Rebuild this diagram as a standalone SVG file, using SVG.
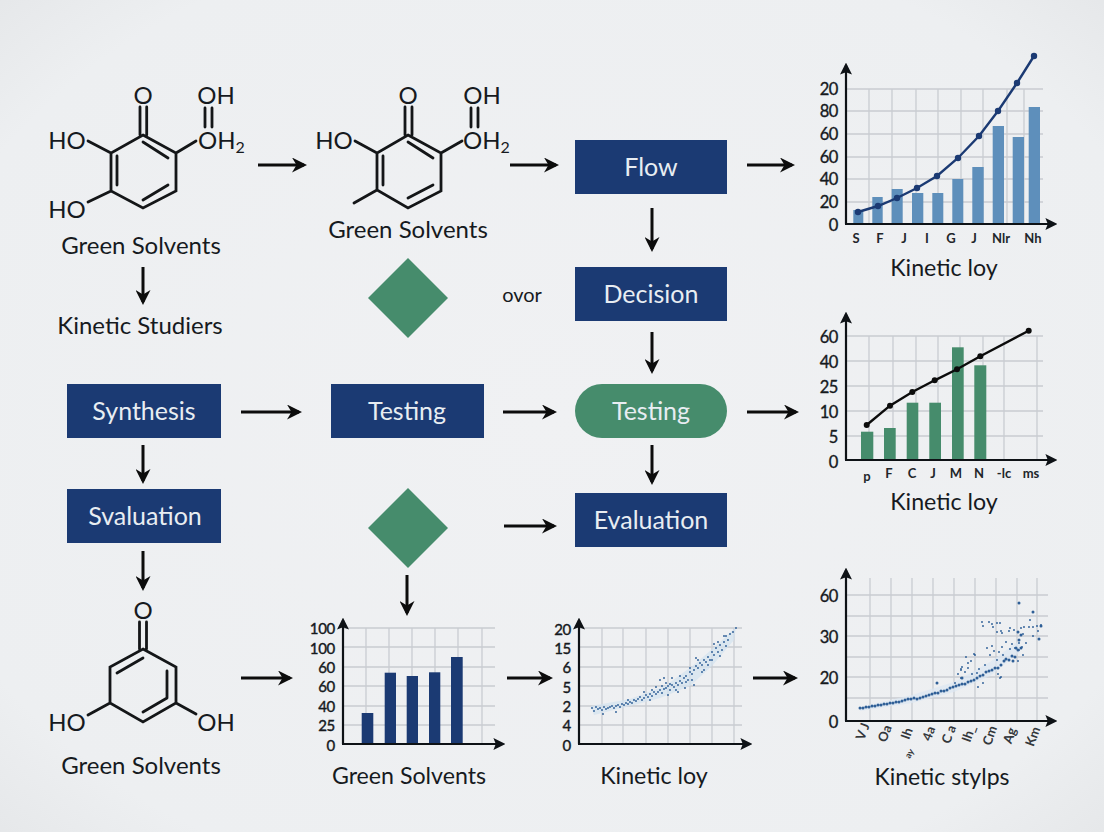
<svg xmlns="http://www.w3.org/2000/svg" width="1104" height="832" viewBox="0 0 1104 832">
<style>
text{font-family:"Lato","Open Sans","Liberation Sans",sans-serif;fill:#161a1e}
.t{font-size:24px;text-anchor:middle}
.t2{font-size:23.200px;text-anchor:middle}
.b{font-size:25px;text-anchor:middle;fill:#e8edf2}
.c{font-size:24px;text-anchor:middle}
.a{font-size:16.500px;text-anchor:end;dominant-baseline:central;stroke:#161a1e;stroke-width:.35;letter-spacing:-.4px}
.a2{font-size:15px;text-anchor:end;dominant-baseline:central;stroke:#161a1e;stroke-width:.4;letter-spacing:-.3px}
.x{font-size:13px;text-anchor:middle;font-weight:700;fill:#22262a}
.r{font-size:13px;text-anchor:middle;font-weight:700;fill:#33373b}
.bond{fill:none;stroke:#141618;stroke-width:2.800;stroke-linecap:round}
.n{fill:#1b3a73}.g{fill:#468c6c}
.ar{fill:none;stroke:#0c0c0c;stroke-width:3;marker-end:url(#h)}
.ax{fill:none;stroke:#0e1216;stroke-width:2.200;marker-end:url(#h2)}
.grid{fill:none;stroke:#c9ccd1;stroke-width:1.300}
.dots{fill:none;stroke:#2f5f97;stroke-width:3;stroke-linecap:round}
.dots2{fill:none;stroke:#2f5f97;stroke-width:1.900;stroke-linecap:round}
</style>
<defs>
<radialGradient id="bg" cx="50%" cy="50%" r="72%"><stop offset="0" stop-color="#f0f1f3"/><stop offset=".82" stop-color="#edeff1"/><stop offset="1" stop-color="#e5e7e9"/></radialGradient>
<marker id="h" markerWidth="15" markerHeight="15" refX="8" refY="5" orient="auto" markerUnits="userSpaceOnUse" viewBox="0 0 10 10"><path d="M0 0L10 5L0 10L3 5Z" fill="#0c0c0c"/></marker>
<marker id="h2" markerWidth="12" markerHeight="12" refX="8" refY="5" orient="auto" markerUnits="userSpaceOnUse" viewBox="0 0 10 10"><path d="M0 0L10 5L0 10L2 5Z" fill="#0e1216"/></marker>
</defs>
<rect width="1104" height="832" fill="url(#bg)"/>

<g id="connectors">
<path class="ar" d="M258 165H304"/><path class="ar" d="M510 165H556"/><path class="ar" d="M747 165H792"/>
<path class="ar" d="M143 267V302"/><path class="ar" d="M652 208V249"/><path class="ar" d="M652 332V371"/><path class="ar" d="M652 445V482"/>
<path class="ar" d="M241 412H299"/><path class="ar" d="M503 412H554"/><path class="ar" d="M747 412H796"/>
<path class="ar" d="M143 445V481"/><path class="ar" d="M143 551V588"/>
<path class="ar" d="M504 526H554"/><path class="ar" d="M407 575V613"/>
<path class="ar" d="M241 678H290"/><path class="ar" d="M507 678H550"/><path class="ar" d="M753 678H795"/>
</g>

<g id="mol1">
<path class="bond" d="M143 135L176 153V191L143 208L111 191V153ZM140 135V107M146.700 135V107M205 127V108M212 127V108M111 153L88 141M176 153L196 141M111 191L88 202M117 156V185M143 142L168 158M143 200L168 185"/>
<text class="c" x="143" y="104">O</text><text class="c" x="216" y="104">OH</text><text class="c" x="67" y="149">HO</text>
<text class="c" x="198" y="149" style="text-anchor:start">OH<tspan font-size="16" dy="4">2</tspan></text><text class="c" x="67" y="218">HO</text>
<text class="t" x="141" y="254">Green Solvents</text>
</g>
<g id="kinetic-studies"><text class="t" x="140" y="334">Kinetic Studiers</text></g>
<g id="mol2">
<path class="bond" d="M408 135L441 153V191L408 208L377 190V153ZM405 135V107M412 135V107M471 127V108M478 127V108M377 153L355 141M441 153L462 141M377 190L354 203M383 156V185M408 142L433 158M408 198L433 185"/>
<text class="c" x="408" y="104">O</text><text class="c" x="482" y="104">OH</text><text class="c" x="334" y="149">HO</text>
<text class="c" x="463" y="149" style="text-anchor:start">OH<tspan font-size="16" dy="4">2</tspan></text>
<text class="t" x="408" y="238">Green Solvents</text>
</g>
<g id="diamond1"><path class="g" d="M408 258L448 298L408 338L368 298Z"/></g>
<g id="ovor"><text x="522" y="302" font-size="20" text-anchor="middle">ovor</text></g>
<g id="flow"><rect class="n" x="575" y="140" width="152" height="54"/><text class="b" x="651" y="176">Flow</text></g>
<g id="decision"><rect class="n" x="575" y="267" width="152" height="54"/><text class="b" x="651" y="303">Decision</text></g>
<g id="synthesis"><rect class="n" x="67" y="384" width="154" height="54"/><text class="b" x="144" y="420">Synthesis</text></g>
<g id="testing1"><rect class="n" x="331" y="384" width="153" height="54"/><text class="b" x="407" y="420">Testing</text></g>
<g id="testing2"><rect class="g" x="575" y="384" width="152" height="54" rx="27"/><text class="b" x="651" y="420">Testing</text></g>
<g id="svaluation"><rect class="n" x="67" y="489" width="154" height="54"/><text class="b" x="145" y="525">Svaluation</text></g>
<g id="evaluation"><rect class="n" x="575" y="493" width="152" height="54"/><text class="b" x="651" y="529">Evaluation</text></g>
<g id="diamond2"><path class="g" d="M408 488L448 528L408 568L368 528Z"/></g>

<g id="mol3">
<path class="bond" d="M143 649L176 667V703L143 722L110 703V667ZM139.500 649V622M146.500 649V622M110 703L88 715M176 703L196 714M117 673L143 658M167 671V698M143 712L167 698"/>
<text class="c" x="143" y="619">O</text><text class="c" x="67" y="731">HO</text><text class="c" x="216" y="731">OH</text>
<text class="t" x="141" y="774">Green Solvents</text>
</g>

<g id="chart1">
<path class="grid" d="M845 89H1043M845 111H1043M845 134H1043M845 157H1043M845 179H1043M845 202H1043M869 89V224M892 89V224M916 89V224M938 89V224M961 89V224M983 89V224M1007 89V224M1024 89V224"/>
<g fill="#5e8fbb"><rect x="853.300" y="210" width="10" height="14"/><rect x="872.300" y="197" width="10.400" height="27"/><rect x="891.700" y="189" width="11" height="35"/><rect x="912" y="193" width="11.300" height="31"/><rect x="932.300" y="193" width="11" height="31"/><rect x="952.300" y="179" width="11" height="45"/><rect x="972.300" y="167" width="11.400" height="57"/><rect x="992.700" y="126" width="11.300" height="98"/><rect x="1012.700" y="137" width="11.300" height="87"/><rect x="1028.700" y="107" width="11.300" height="117"/></g>
<path class="ax" d="M846 224V65"/><path class="ax" d="M845 224H1055"/>
<path d="M858 212L878 206L897 198L917 188L937 176L958 158L979 136L998 111L1017 83L1034 56" fill="none" stroke="#1b3a73" stroke-width="2.400"/>
<g fill="#1b3a73"><circle cx="858" cy="212" r="3.200"/><circle cx="878" cy="206" r="3.200"/><circle cx="897" cy="198" r="3.200"/><circle cx="917" cy="188" r="3.200"/><circle cx="937" cy="176" r="3.200"/><circle cx="958" cy="158" r="3.200"/><circle cx="979" cy="136" r="3.200"/><circle cx="998" cy="111" r="3.200"/><circle cx="1017" cy="83" r="3.200"/><circle cx="1034" cy="56" r="3.200"/></g>
<text class="a" x="838" y="89">20</text><text class="a" x="838" y="111">80</text><text class="a" x="838" y="134">60</text><text class="a" x="838" y="157">60</text><text class="a" x="838" y="179">40</text><text class="a" x="838" y="202">20</text><text class="a" x="838" y="225">0</text>
<text class="x" x="856" y="243">S</text><text class="x" x="880" y="243">F</text><text class="x" x="904" y="243">J</text><text class="x" x="927" y="243">I</text><text class="x" x="951" y="243">G</text><text class="x" x="974" y="243">J</text><text class="x" x="1001" y="243">Nlr</text><text class="x" x="1033" y="243">Nh</text>
<text class="t2" x="944" y="276">Kinetic loy</text>
</g>

<g id="chart2">
<path class="grid" d="M845 336H1043M845 361H1043M845 386H1043M845 411H1043M845 436H1043M869 336V460M893 336V460M916 336V460M938 336V460M960 336V460M983 336V460M1004 336V460M1037 336V460"/>
<g class="g"><rect x="861" y="431.700" width="12.300" height="28.300"/><rect x="884" y="428" width="11.700" height="32"/><rect x="906.700" y="402.700" width="11.600" height="57.300"/><rect x="929.300" y="402.700" width="11.700" height="57.300"/><rect x="952" y="347.300" width="11.700" height="112.700"/><rect x="974.300" y="365.300" width="12" height="94.700"/></g>
<path class="ax" d="M846 460V314"/><path class="ax" d="M845 460H1055"/>
<path d="M866.700 425L890 405.700L912.300 392L934.700 380.300L957 369.300L980.300 356.300L1028.700 330.700" fill="none" stroke="#0c0c0c" stroke-width="2.400"/>
<g fill="#0c0c0c"><circle cx="866.700" cy="425" r="3"/><circle cx="890" cy="405.700" r="3"/><circle cx="912.300" cy="392" r="3"/><circle cx="934.700" cy="380.300" r="3"/><circle cx="957" cy="369.300" r="3"/><circle cx="980.300" cy="356.300" r="3"/><circle cx="1028.700" cy="330.700" r="3"/></g>
<text class="a" x="838" y="337">60</text><text class="a" x="838" y="362">40</text><text class="a" x="838" y="387">25</text><text class="a" x="838" y="412">10</text><text class="a" x="838" y="437">5</text><text class="a" x="838" y="462">0</text>
<text class="x" x="867" y="481">p</text><text class="x" x="889" y="478">F</text><text class="x" x="912" y="478">C</text><text class="x" x="933" y="478">J</text><text class="x" x="956" y="478">M</text><text class="x" x="979" y="478">N</text><text class="x" x="1004" y="478" font-size="11">-lc</text><text class="x" x="1031" y="478">ms</text>
<text class="t2" x="944" y="510">Kinetic loy</text>
</g>

<g id="chart3">
<path class="grid" d="M845 595H1048M845 616H1048M845 636H1048M845 657H1048M845 677H1048M845 698H1048M870 578V721M891 578V721M912 578V721M933 578V721M954 578V721M975 578V721M996 578V721M1017 578V721M1037 578V721"/>
<path d="M860 707L912 695L954 682L990 662L1020 640L1020 652L990 676L954 692L912 703L860 711Z" fill="#dbe7f2" opacity=".7"/>
<path class="dots" d="M860 708h0M863 708h0M866 707h0M869 707h0M872 706h0M875 706h0M878 705h0M881 705h0M884 704h0M887 704h0M890 703h0M893 703h0M896 702h0M899 702h0M902 701h0M905 700h0M908 699h0M911 699h0M914 698h0M917 699h0M920 698h0M923 697h0M926 696h0M929 695h0M932 694h0M935 693h0M938 693h0M941 691h0M944 691h0M947 690h0M950 688h0M953 687h0M956 686h0M959 685h0M962 684h0M965 684h0M968 682h0M971 681h0M974 680h0M977 678h0M980 676h0M983 675h0M986 672h0M989 671h0M992 670h0M995 668h0M998 668h0M1001 665h0M1004 661h0M1006 659h0M1009 660h0M1012 656h0M1015 657h0M1013 661h0M1018 650h0M1021 648h0M1016 648h0M1019 640h0M1021 635h0M1018 632h0"/>
<path class="dots2" d="M937 683h0M955 683h0M958 674h0M961 670h0M962 667h0M961 678h0M965 672h0M968 668h0M961 669h0M971 661h0M974 654h0M966 657h0M975 655h0M968 663h0M972 674h0M977 673h0M978 687h0M983 683h0M979 669h0M985 665h0M990 655h0M987 648h0M992 646h0M994 651h0M997 660h0M999 652h0M1002 647h0M1003 655h0M1006 642h0M1010 649h0M1012 644h0M1015 648h0M1019 650h0M1022 647h0M1023 655h0M1018 661h0M998 674h0M1000 678h0M1001 677h0M982 622h0M983 626h0M989 622h0M992 624h0M993 627h0M997 623h0M1000 623h0M1001 631h0M997 632h0M1002 633h0M1009 631h0M1010 628h0M1014 630h0M1021 628h0M1024 627h0M1029 627h0M1033 627h0M1037 626h0M1041 625h0M1038 631h0M1033 636h0M1039 639h0M1023 634h0M1026 643h0M1019 643h0M1030 620h0"/>
<path class="dots" d="M1019 603h0M1033 612h0M1041 626h0M1039 639h0M937 683h0M962 678h0"/>
<path class="ax" d="M846 721V570"/><path class="ax" d="M845 721H1055"/>
<text class="a" x="838" y="596">60</text><text class="a" x="838" y="637">30</text><text class="a" x="838" y="678">20</text><text class="a" x="838" y="722">0</text>
<g><text class="r" transform="translate(867 733) rotate(-70)">V J</text><text class="r" transform="translate(889 735) rotate(-70)">Oa</text><text class="r" transform="translate(911 735) rotate(-70)">Ih</text><text class="r" transform="translate(933 735) rotate(-70)">4a</text><text class="r" transform="translate(953 736) rotate(-70)">C a</text><text class="r" transform="translate(973 735) rotate(-70)">Ih_</text><text class="r" transform="translate(994 737) rotate(-70)">Cm</text><text class="r" transform="translate(1014 737) rotate(-70)">Ag</text><text class="r" transform="translate(1037 738) rotate(-70)">Km</text><text class="r" style="font-size:9px" transform="translate(912 755) rotate(-60)">ay</text></g>
<text x="942" y="785" style="font-size:23px;text-anchor:middle">Kinetic stylps</text>
</g>

<g id="chart4">
<path class="grid" d="M343 628H495M343 647H495M343 667H495M343 686H495M343 706H495M343 725H495M366 628V744M389 628V744M412 628V744M435 628V744M458 628V744M482 628V744"/>
<g class="n"><rect x="361.700" y="713" width="11.600" height="31"/><rect x="384.700" y="672.700" width="11.300" height="71.300"/><rect x="406.700" y="676" width="11.300" height="68"/><rect x="429" y="672.300" width="11.300" height="71.700"/><rect x="451" y="657" width="11.700" height="87"/></g>
<path class="ax" d="M343 744V620"/><path class="ax" d="M342 744H503"/>
<text class="a2" x="335" y="628">100</text><text class="a2" x="335" y="648">100</text><text class="a2" x="335" y="667">60</text><text class="a2" x="335" y="686">60</text><text class="a2" x="335" y="706">40</text><text class="a2" x="335" y="725">25</text><text class="a2" x="335" y="745">0</text>
<text class="t2" x="409" y="784">Green Solvents</text>
</g>

<g id="chart5">
<path class="grid" d="M578 628H742M578 647H742M578 667H742M578 686H742M578 706H742M578 725H742M602 628V744M623 628V744M646 628V744M668 628V744M690 628V744M712 628V744M734 628V744"/>
<path d="M591 706L630 699L665 686L695 664L720 642L736 627L734 640L712 666L690 686L660 698L630 706L594 715Z" fill="#d3e2f0" opacity=".7"/>
<path class="dots2" d="M592 708h0M594 711h0M596 707h0M598 709h0M600 708h0M602 710h0M604 707h0M606 709h0M608 708h0M610 707h0M612 706h0M614 708h0M616 706h0M618 705h0M620 707h0M622 704h0M624 705h0M626 703h0M628 704h0M630 702h0M632 703h0M634 700h0M636 701h0M638 699h0M640 697h0M642 700h0M644 698h0M646 695h0M648 697h0M650 694h0M652 696h0M654 692h0M656 694h0M658 692h0M660 690h0M662 693h0M664 689h0M666 688h0M668 686h0M670 690h0M672 685h0M674 687h0M676 683h0M678 685h0M680 681h0M682 683h0M684 678h0M686 676h0M688 680h0M690 672h0M692 674h0M694 670h0M696 666h0M698 668h0M700 663h0M702 665h0M704 660h0M706 662h0M708 657h0M710 660h0M712 652h0M714 655h0M716 648h0M718 652h0M720 645h0M722 650h0M724 642h0M726 646h0M728 640h0M730 634h0M733 632h0M736 628h0M660 680h0M664 678h0M666 683h0M668 695h0M672 678h0M676 690h0M680 676h0M685 688h0M690 668h0M694 685h0M698 660h0M702 672h0M708 665h0M714 644h0M720 656h0M726 636h0M616 712h0M603 714h0M628 700h0M650 700h0M656 687h0M652 690h0M644 692h0M662 686h0M670 684h0M678 692h0M686 682h0M692 680h0M696 658h0M704 670h0M712 660h0M718 642h0M724 636h0"/>
<path class="ax" d="M579 744V620"/><path class="ax" d="M578 744H750"/>
<text class="a2" x="571" y="629">20</text><text class="a2" x="571" y="648">15</text><text class="a2" x="571" y="667">6</text><text class="a2" x="571" y="687">5</text><text class="a2" x="571" y="706">2</text><text class="a2" x="571" y="725">4</text><text class="a2" x="571" y="745">0</text>
<text class="t2" x="654" y="784">Kinetic loy</text>
</g>
</svg>
